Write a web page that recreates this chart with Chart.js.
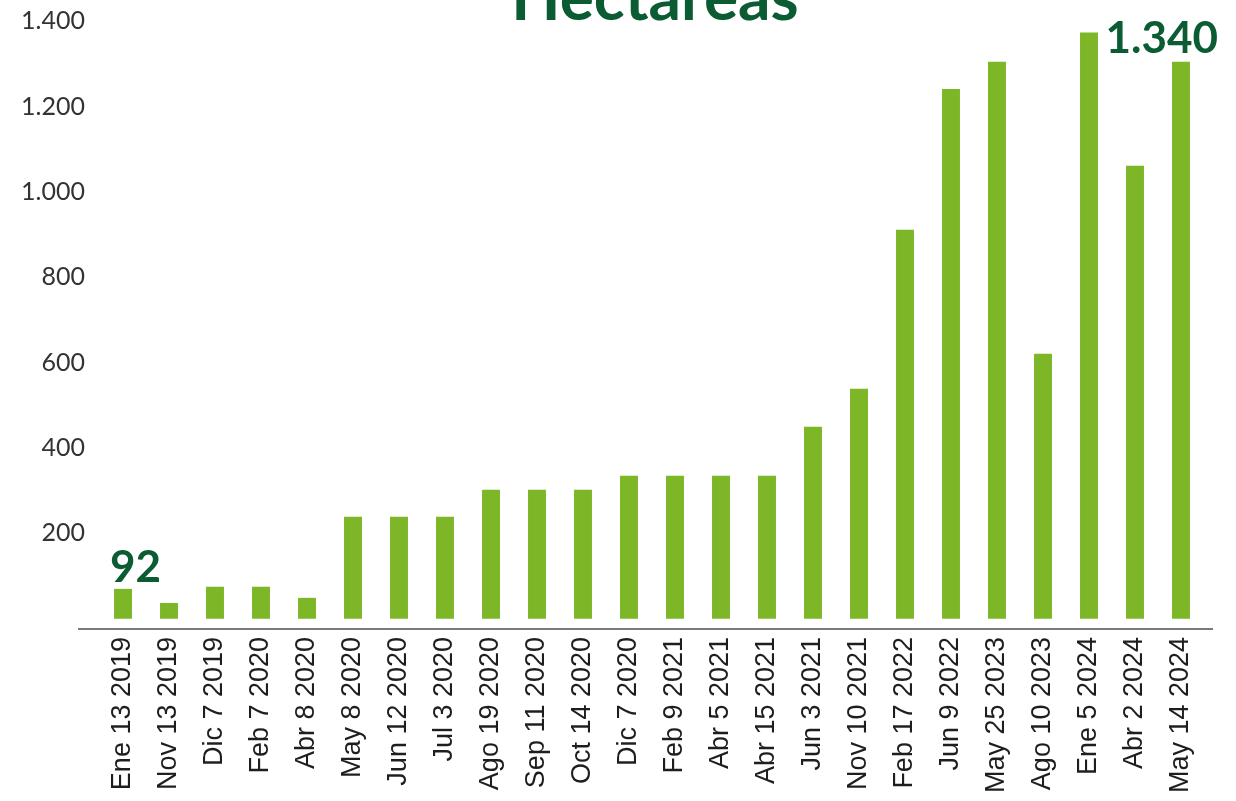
<!DOCTYPE html>
<html>
<head>
<meta charset="utf-8">
<script src="https://cdn.jsdelivr.net/npm/chart.js@4.4.1/dist/chart.umd.min.js"></script>
<style>
  html, body { margin: 0; padding: 0; background: #fff; }
  #wrap { width: 1236px; height: 801px; position: relative; }
</style>
</head>
<body>
<div id="wrap"><canvas id="bar-chart"></canvas></div>
<script>
// categories (fechas)
const fechas = [
  "Ene 13 2019", "Nov 13 2019", "Dic 7 2019", "Feb 7 2020", "Abr 8 2020",
  "May 8 2020", "Jun 12 2020", "Jul 3 2020", "Ago 19 2020", "Sep 11 2020",
  "Oct 14 2020", "Dic 7 2020", "Feb 9 2021", "Abr 5 2021", "Abr 15 2021",
  "Jun 3 2021", "Nov 10 2021", "Feb 17 2022", "Jun 9 2022", "May 25 2023",
  "Ago 10 2023", "Ene 5 2024", "Abr 2 2024", "May 14 2024"
];
// hectareas
const hectareas = [
  70, 37, 75, 75, 49,
  239, 239, 239, 302, 302,
  302, 335, 335, 335, 335,
  450, 539, 911, 1241, 1305,
  621, 1373, 1061, 1305
];
// y tick labels
const ticksY = [200, 400, 600, 800, 1000, 1200, 1400];
// callouts written on the chart
const calloutIdx = [0, 23];
const calloutText = ["92", "1.340"];

const verde = "#7db728";
const verdeOscuro = "#0b5b33";

function miles(v) {
  return String(v).replace(/\B(?=(\d{3})+(?!\d))/g, ".");
}

const extras = {
  id: "extras",
  beforeDatasetsDraw(chart) {
    const ctx = chart.ctx, a = chart.chartArea;
    ctx.save();
    ctx.strokeStyle = "#7a7a7a";
    ctx.lineWidth = 2;
    ctx.beginPath();
    ctx.moveTo(a.left - 22, a.bottom);
    ctx.lineTo(a.right + 9, a.bottom);
    ctx.stroke();
    ctx.restore();
  },
  afterDraw(chart) {
    const ctx = chart.ctx, a = chart.chartArea;
    const bars = chart.getDatasetMeta(0).data;
    ctx.save();
    ctx.fillStyle = verdeOscuro;
    ctx.font = "bold 64px Lato";
    ctx.textAlign = "center";
    ctx.textBaseline = "alphabetic";
    ctx.fillText("Hectareas", (a.left + a.right) / 2 + 3, 20);

    ctx.font = "bold 44px Lato";
    calloutIdx.forEach((i, k) => {
      const b = bars[i];
      if (k === 0) {
        ctx.textAlign = "left";
        ctx.fillText(calloutText[k], b.x - b.width / 2 - 4, b.y - 7);
      } else {
        ctx.textAlign = "right";
        ctx.fillText(calloutText[k], chart.width - 18, b.y - 9);
      }
    });
    ctx.restore();
  }
};

new Chart(document.getElementById("bar-chart"), {
  type: "bar",
  data: {
    labels: fechas,
    datasets: [{
      data: hectareas,
      backgroundColor: verde,
      borderWidth: 0,
      categoryPercentage: 1,
      barPercentage: 0.39
    }]
  },
  options: {
    responsive: true,
    maintainAspectRatio: false,
    animation: false,
    layout: { padding: { top: 4, right: 32, left: 0, bottom: 0 } },
    plugins: {
      legend: { display: false },
      title: { display: false },
      tooltip: { enabled: false }
    },
    scales: {
      x: {
        grid: { display: false, drawTicks: false },
        border: { display: false },
        ticks: {
          autoSkip: false,
          minRotation: 90,
          maxRotation: 90,
          padding: 8,
          color: "#1e1e1e",
          font: { family: "'Liberation Sans', Arial, sans-serif", size: 27 }
        },
        afterFit(scale) { scale.height = 172; }
      },
      y: {
        min: -24,
        max: 1440,
        grid: { display: false, drawTicks: false },
        border: { display: false },
        afterBuildTicks(scale) {
          scale.ticks = ticksY.map(v => ({ value: v }));
        },
        ticks: {
          padding: 15,
          color: "#333333",
          font: { family: "Lato, sans-serif", size: 25 },
          callback: v => miles(v)
        },
        afterFit(scale) {
          scale.width = 100;
          scale.paddingTop = 0;
          scale.paddingBottom = 0;
        }
      }
    }
  },
  plugins: [extras]
});
</script>
</body>
</html>
